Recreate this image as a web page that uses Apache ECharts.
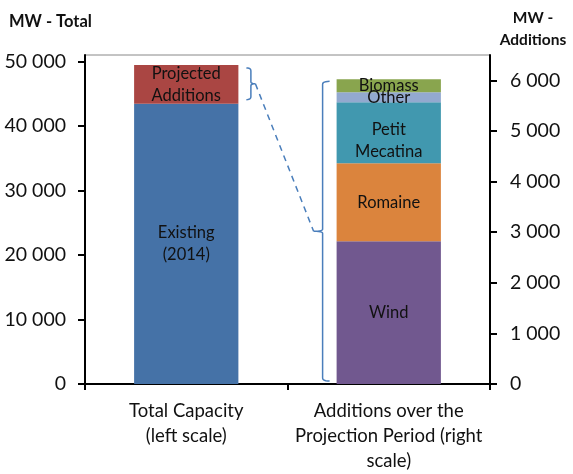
<!DOCTYPE html>
<html>
<head>
<meta charset="utf-8">
<script src="https://cdn.jsdelivr.net/npm/echarts@6/dist/echarts.min.js"></script>
<style>
html,body{margin:0;padding:0;background:#fff;}
#main{width:573px;height:474px;}
</style>
</head>
<body>
<div id="main"></div>
<script>
// ---- data ----
const categories = ['Total Capacity\n(left scale)', 'Additions over the\nProjection Period (right\nscale)'];
const existing = [43460, '-'];
const projected = [6000, '-'];
const wind = ['-', 2820];
const romaine = ['-', 1540];
const petitMecatina = ['-', 1205];
const other = ['-', 198];
const biomass = ['-', 256];
const leftTicks = [0, 10000, 20000, 30000, 40000, 50000];
const rightTicks = [0, 1000, 2000, 3000, 4000, 5000, 6000];

const FONT = 'Lato';
const fmt = v => String(v).replace(/\B(?=(\d{3})+(?!\d))/g, '\u00a0');

function seg(name, data, color, yIdx, labelText, extra) {
  return Object.assign({
    name: name, type: 'bar', stack: 'all', yAxisIndex: yIdx, data: data,
    barWidth: '51.5%',
    itemStyle: { color: color },
    label: { show: true, position: 'inside', formatter: labelText, color: '#111',
      fontFamily: FONT, fontSize: 16.5, lineHeight: 22 }
  }, extra || {});
}

const chart = echarts.init(document.getElementById('main'), null, { renderer: 'canvas' });
chart.setOption({
  animation: false,
  backgroundColor: '#fff',
  title: [
    { text: 'MW - Total', left: 4, top: 8, textStyle: { fontFamily: FONT, fontWeight: 'bold', fontSize: 16.5, color: '#111' } },
    { text: 'MW -\nAdditions', left: 528, top: 2, textAlign: 'center',
      textStyle: { fontFamily: FONT, fontWeight: 'bold', fontSize: 15.5, lineHeight: 22, color: '#111' } }
  ],
  grid: { left: 85, right: 83, top: 55, bottom: 90, show: true, borderColor: '#888', borderWidth: 1 },
  xAxis: {
    type: 'category', data: categories,
    axisLine: { lineStyle: { color: '#000', width: 2 } },
    axisTick: { show: true, length: 6, lineStyle: { color: '#000', width: 2 } },
    axisLabel: { interval: 0, fontFamily: FONT, fontSize: 18.5, lineHeight: 25, color: '#111', margin: 15 }
  },
  yAxis: [
    { type: 'value', min: 0, max: 51000, position: 'left', splitLine: { show: false },
      axisLine: { show: true, lineStyle: { color: '#000', width: 2 } },
      axisTick: { show: true, length: 7, customValues: leftTicks, lineStyle: { color: '#000', width: 2 } },
      axisLabel: { customValues: leftTicks, formatter: fmt, fontFamily: FONT, fontSize: 19.5, color: '#111', margin: 19 } },
    { type: 'value', min: 0, max: 6500, position: 'right', splitLine: { show: false },
      axisLine: { show: true, lineStyle: { color: '#000', width: 2 } },
      axisTick: { show: true, length: 7, customValues: rightTicks, lineStyle: { color: '#000', width: 2 } },
      axisLabel: { customValues: rightTicks, formatter: fmt, fontFamily: FONT, fontSize: 19.5, color: '#111', margin: 20 } }
  ],
  series: [
    seg('Existing (2014)', existing, '#4572A7', 0, 'Existing\n(2014)'),
    seg('Projected Additions', projected, '#AA4643', 0, 'Projected\nAdditions'),
    seg('Wind', wind, '#71588F', 1, 'Wind'),
    seg('Romaine', romaine, '#DB843D', 1, 'Romaine'),
    (function(){ const s = seg('Petit Mecatina', petitMecatina, '#4198AF', 1, 'Petit\nMecatina'); s.label.offset = [0, 8]; return s; })(),
    seg('Other', other, '#93A9CF', 1, 'Other'),
    seg('Biomass', biomass, '#89A54E', 1, 'Biomass')
  ]
});

// ---- brackets and connector derived from axis scales ----
const cx0 = chart.convertToPixel({ xAxisIndex: 0 }, 0);
const cx1 = chart.convertToPixel({ xAxisIndex: 0 }, 1);
const band = cx1 - cx0;
const halfBar = band * 0.515 / 2;
const leftTop = chart.convertToPixel({ yAxisIndex: 0 }, existing[0] + projected[0]) + 3;
const leftBot = chart.convertToPixel({ yAxisIndex: 0 }, existing[0]) - 4;
const leftMid = (leftTop + leftBot) / 2;
const totalAdd = wind[1] + romaine[1] + petitMecatina[1] + other[1] + biomass[1];
const rightTop = chart.convertToPixel({ yAxisIndex: 1 }, totalAdd) + 2;
const rightBot = chart.convertToPixel({ yAxisIndex: 1 }, 0) - 3;
const rightMid = chart.convertToPixel({ yAxisIndex: 1 }, wind[1]) - 10;

function quad(pts, p0, c, p1) {
  for (let i = 1; i <= 6; i++) {
    const t = i / 6, u = 1 - t;
    pts.push([u * u * p0[0] + 2 * u * t * c[0] + t * t * p1[0], u * u * p0[1] + 2 * u * t * c[1] + t * t * p1[1]]);
  }
}
function brace(xTip, xSpine, xNub, yTop, yMid, yBot) {
  const pts = [[xTip, yTop]];
  quad(pts, [xTip, yTop], [xSpine, yTop], [xSpine, yTop + 3]);
  pts.push([xSpine, yMid - 2]);
  quad(pts, [xSpine, yMid - 2], [xSpine, yMid], [xNub, yMid]);
  quad(pts, [xNub, yMid], [xSpine, yMid], [xSpine, yMid + 2]);
  pts.push([xSpine, yBot - 3]);
  quad(pts, [xSpine, yBot - 3], [xSpine, yBot], [xTip, yBot]);
  return pts;
}

const bx0 = cx0 + halfBar + 8, bx1 = bx0 + 4.5, bnub = bx1 + 4.5;
const rx1 = cx1 - halfBar - 7, rx0 = rx1 - 7, rnub = rx0 - 9;

const lineColor = '#4A7EBB';
chart.setOption({
  graphic: [
    { type: 'polyline', shape: { points: brace(bx0, bx1, bnub, leftTop, leftMid, leftBot) }, style: { fill: null, stroke: lineColor, lineWidth: 1.5 } },
    { type: 'polyline', shape: { points: brace(rx1, rx0, rnub, rightTop, rightMid, rightBot) }, style: { fill: null, stroke: lineColor, lineWidth: 1.5 } },
    { type: 'line', shape: { x1: bnub, y1: leftMid, x2: rnub, y2: rightMid },
      style: { stroke: lineColor, lineWidth: 1.5, lineDash: [6, 5] } }
  ]
});
</script>
</body>
</html>
